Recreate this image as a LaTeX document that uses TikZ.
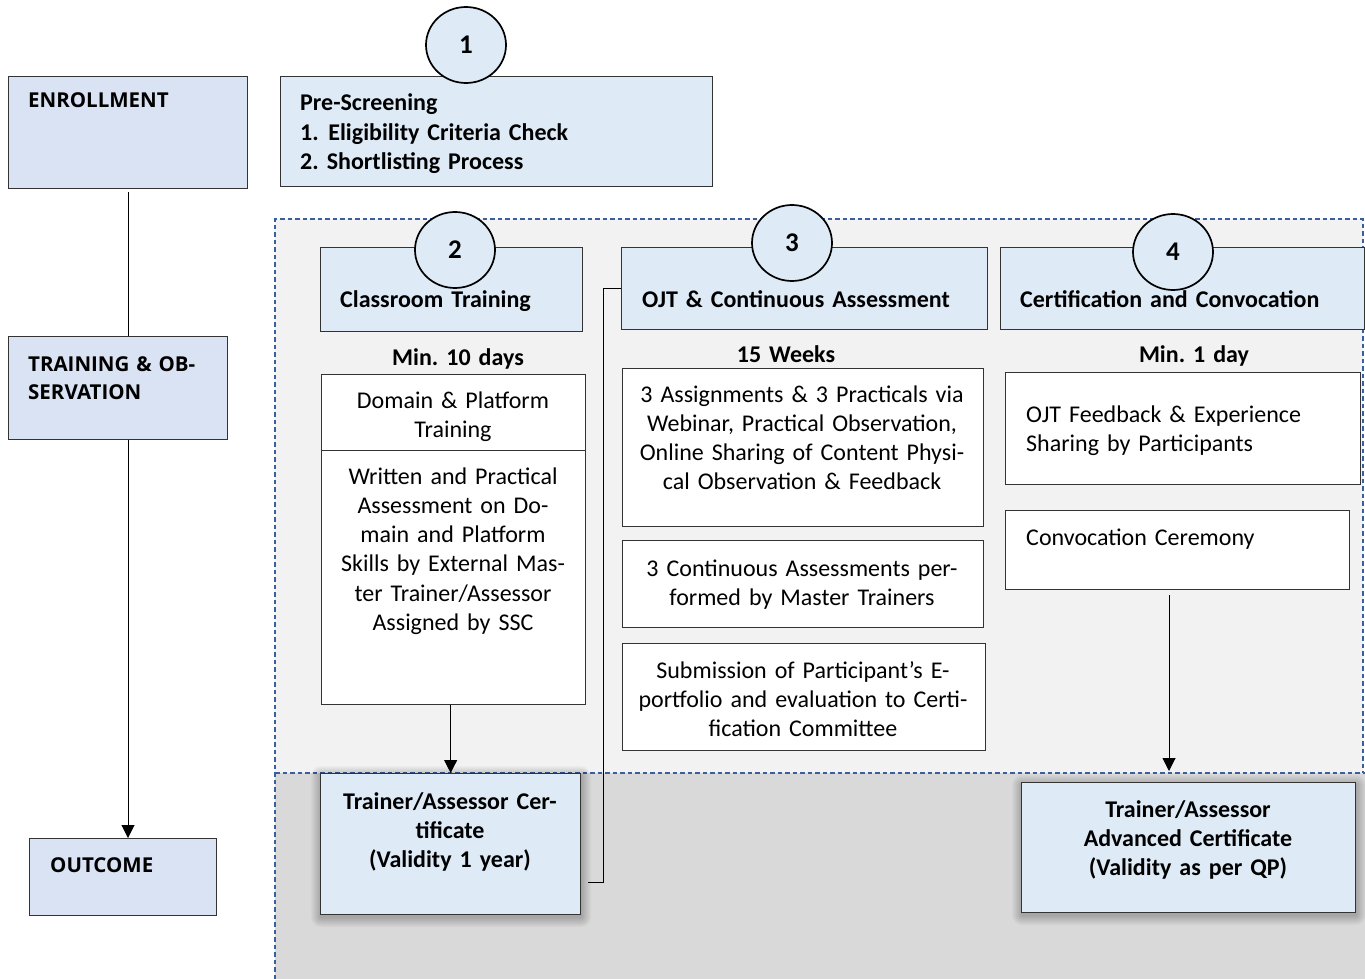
\documentclass[tikz,border=0pt]{standalone}
\usepackage{fontspec}
\setmainfont{Carlito}
\newfontfamily\labfont{Open Sans}
\usetikzlibrary{arrows.meta,calc,shapes.geometric}
\definecolor{hdr}{HTML}{DEEBF7}
\definecolor{lft}{HTML}{DAE3F3}
\definecolor{upfill}{HTML}{F2F2F2}
\definecolor{lowfill}{HTML}{D9D9D9}
\definecolor{dshcol}{HTML}{3A5F9E}
\definecolor{edgecol}{HTML}{333333}
\newcommand\bx[6]{\node[box,#2,minimum width={#5-#3},minimum height={#6-#4}] (#1) at (#3,#4) {};}
\newcommand\softshadow[4]{%
  \foreach \d in {1,...,10}{\fill[black,opacity=0.022,rounded corners=\d pt] (#1-\d+1,#2-\d+3) rectangle (#3+\d+1,#4+\d+3);}}
\frenchspacing
\begin{document}
\begin{tikzpicture}[x=1pt,y=-1pt,
  box/.style={draw=edgecol,line width=1.3pt,inner sep=0,anchor=north west},
  btxt/.style={inner sep=0,text width=520pt,align=center,font=\fontsize{24}{29.3}\selectfont},
  bold/.style={btxt,font=\bfseries\fontsize{24}{29.3}\selectfont},
  lbl/.style={inner sep=0,text width=300pt,align=left,font=\labfont\bfseries\fontsize{20.5}{28}\selectfont},
  circ/.style={ellipse,draw=black,line width=1.7pt,fill=hdr,minimum width=80pt,minimum height=76pt,inner sep=0,font=\bfseries\fontsize{27}{29}\selectfont},
  conn/.style={draw=black,line width=1pt},
  arr/.style={conn,-{Triangle[width=13pt,length=13pt]}},
  dsh/.style={draw=dshcol,line width=1.1pt,dash pattern=on 4.5pt off 3pt}]
\useasboundingbox (0,0) rectangle (1365,979);
% regions
\fill[upfill] (275,219) rectangle (1363,773);
\fill[lowfill] (275,773) rectangle (1365,979);
\draw[dsh] (275,979) -- (275,219) -- (1363,219) -- (1363,773);
\draw[dsh] (275,773) -- (1365,773);
% left column
\bx{enr}{fill=lft}{8}{76}{247}{188}
\node[lbl,anchor=base west] (enrT) at (28,108) {ENROLLMENT};
\bx{trn}{fill=lft}{8}{336}{227}{439}
\node[lbl,anchor=base west] (trnT) at (28,371) {TRAINING \& OB-\\SERVATION};
\bx{out}{fill=lft}{29}{838}{216}{915}
\node[lbl,anchor=base west] (outT) at (50,872) {OUTCOME};
\coordinate (l1) at (128,192);
\draw[conn] (l1) -- (l1 |- trn.north);
\draw[arr] (l1 |- trn.south) -- (l1 |- out.north);
% pre-screening
\bx{pre}{fill=hdr}{280}{76}{712}{186}
\node[bold,align=left,anchor=base west] (preT) at (300,111) {Pre-Screening\\1.\hspace{0.4em}Eligibility Criteria Check\\2. Shortlisting Process};
% headers
\bx{clsH}{fill=hdr}{320}{247}{582}{331}
\node[bold,align=left,anchor=base west] (clsT) at (340,307) {Classroom Training};
\bx{ojtH}{fill=hdr}{621}{247}{987}{329}
\node[bold,anchor=base] (ojtT) at (796,307) {OJT \& Continuous Assessment};
\bx{cerH}{fill=hdr}{1000}{247}{1364}{329}
\node[bold,align=left,anchor=base west] (cerT) at (1020,307) {Certification and Convocation};
% durations
\node[bold,anchor=base] (d1) at (458,365) {Min. 10 days};
\node[bold,anchor=base] (d2) at (786,362) {15 Weeks};
\node[bold,anchor=base] (d3) at (1194,362) {Min. 1 day};
% classroom column
\bx{dom}{fill=white}{321}{374}{585}{450}
\node[btxt,anchor=base] (domT) at (453,408) {Domain \& Platform\\Training};
\bx{wpa}{fill=white}{321}{450}{585}{704}
\node[btxt,anchor=base] (wpaT) at (453,484) {Written and Practical\\Assessment on Do-\\main and Platform\\Skills by External Mas-\\ter Trainer/Assessor\\Assigned by SSC};
% OJT column
\bx{oa}{fill=white}{622}{368}{983}{526}
\node[btxt,anchor=base] (oaT) at (802,402) {3 Assignments \& 3 Practicals via\\Webinar, Practical Observation,\\Online Sharing of Content Physi-\\cal Observation \& Feedback};
\bx{ob}{fill=white}{622}{540}{983}{627}
\node[btxt,anchor=base] (obT) at (802,576) {3 Continuous Assessments per-\\formed by Master Trainers};
\bx{oc}{fill=white}{622}{643}{985}{750}
\node[btxt,anchor=base] (ocT) at (803,678) {Submission of Participant’s E-\\portfolio and evaluation to Certi-\\fication Committee};
% certification column
\bx{fb}{fill=white}{1005}{372}{1360}{484}
\node[btxt,align=left,anchor=base west] (fbT) at (1026,422) {OJT Feedback \& Experience\\Sharing by Participants};
\bx{cv}{fill=white}{1005}{510}{1349}{589}
\node[btxt,align=left,anchor=base west] (cvT) at (1026,545) {Convocation Ceremony};
% certificates
\softshadow{320}{773}{580}{914}
\softshadow{1021}{782}{1355}{912}
\bx{c1}{fill=hdr}{320}{773}{580}{914}
\node[bold,anchor=base] (c1T) at (450,809) {Trainer/Assessor Cer-\\tificate\\(Validity 1 year)};
\bx{c2}{fill=hdr}{1021}{782}{1355}{912}
\node[bold,anchor=base] (c2T) at (1188,817) {Trainer/Assessor\\Advanced Certificate\\(Validity as per QP)};
% connectors
\draw[arr] (c1.north |- wpa.south) -- (c1.north);
\coordinate (cvA) at (1169,595);
\coordinate (cvB) at (1169,771);
\draw[arr] (cvA) -- (cvB);
\coordinate (brk) at (588,882);
\draw[conn] (ojtH.west) -- ++(-18,0) |- (brk);
% number circles
\node[circ] (n1) at (466,45) {1};
\node[circ] (n2) at (455,250) {2};
\node[circ] (n3) at (792,243) {3};
\node[circ] (n4) at (1173,252) {4};
\end{tikzpicture}
\end{document}
